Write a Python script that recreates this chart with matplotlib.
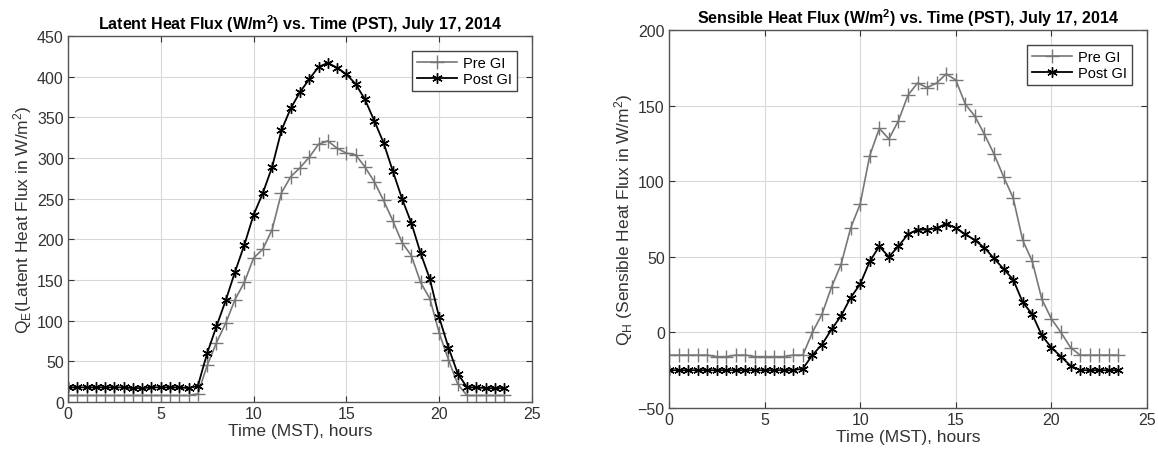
import numpy as np
import matplotlib.pyplot as plt

plt.rcParams['font.family'] = ['Liberation Sans', 'DejaVu Sans']
plt.rcParams['mathtext.fontset'] = 'custom'
plt.rcParams['mathtext.rm'] = 'Liberation Sans'
plt.rcParams['mathtext.it'] = 'Liberation Sans'
plt.rcParams['mathtext.bf'] = 'Liberation Sans:bold'

# 时间 (每半小时)
hours = np.arange(0, 24, 0.5)

# 潜热通量
latent_pre = [8, 8, 8, 8, 8, 8, 8, 8, 8, 8, 8, 8, 8, 8, 10,
              45, 73, 97, 126, 147, 177, 188, 212, 257, 277, 288, 301, 317, 321,
              312, 306, 304, 289, 271, 248, 223, 196, 180, 147, 127, 85, 52, 22,
              8, 8, 8, 8, 8]
latent_post = [18, 18, 18, 18, 18, 18, 18, 17, 17, 18, 18, 18, 18, 17, 20,
               60, 93, 125, 160, 193, 230, 257, 289, 334, 361, 381, 397, 412, 417,
               411, 403, 391, 372, 346, 319, 284, 250, 220, 183, 151, 104, 67, 35,
               18, 18, 17, 17, 17]

# 显热通量
sensible_pre = [-15, -15, -15, -15, -15, -16, -16, -15, -15, -16, -16, -16, -16, -15, -15,
                0, 12, 30, 45, 69, 85, 117, 135, 128, 140, 157, 165, 162, 165,
                171, 167, 151, 143, 131, 118, 103, 89, 61, 47, 22, 9, 0, -10,
                -15, -15, -15, -15, -15]
sensible_post = [-25, -25, -25, -25, -25, -25, -25, -25, -25, -25, -25, -25, -25, -25, -24,
                 -15, -8, 2, 11, 23, 32, 47, 57, 50, 57, 65, 68, 68, 69,
                 72, 69, 65, 61, 56, 49, 42, 35, 20, 12, -2, -10, -16, -22,
                 -25, -25, -25, -25, -25]

fig = plt.figure(figsize=(11.58, 4.52), dpi=100)
ax1 = fig.add_axes([0.0587, 0.1084, 0.4007, 0.8097])
ax2 = fig.add_axes([0.5777, 0.0951, 0.4128, 0.836])

def style_axes(ax):
    ax.set_xlim(0, 25)
    ax.set_xticks([0, 5, 10, 15, 20, 25])
    ax.grid(True, color='#d8d8d8', linewidth=0.8)
    ax.tick_params(direction='in', top=True, right=True, labelsize=11.5,
                   colors='#333333', length=4, pad=3)
    for s in ax.spines.values():
        s.set_color('#555555')
        s.set_linewidth(1.0)
    ax.set_xlabel('Time (MST), hours', fontsize=12.5, color='#333333', labelpad=1)

def draw(ax, pre, post):
    ax.plot(hours, pre, color='#777777', marker='+', markersize=10, linewidth=1.2,
            markeredgewidth=1.0, label='Pre GI')
    ax.plot(hours, post, color='black', marker=(6, 2, 0), markersize=7.5, linewidth=1.3,
            markeredgewidth=1.0, label='Post GI')
    ax.legend(loc='upper right', fontsize=10.5, fancybox=False, edgecolor='#444444',
              handlelength=2.8, borderpad=0.35, labelspacing=0.15, framealpha=1,
              borderaxespad=1.0, handletextpad=0.4)

draw(ax1, latent_pre, latent_post)
style_axes(ax1)
ax1.set_ylim(0, 450)
ax1.set_yticks(range(0, 451, 50))
ax1.set_ylabel(r'Q$_\mathrm{E}$(Latent Heat Flux in W/m$^\mathrm{2}$)', fontsize=12.5,
               color='#333333', labelpad=2)
ax1.set_title(r'Latent Heat Flux (W/m$^\mathbf{2}$) vs. Time (PST), July 17, 2014',
              fontsize=11.5, fontweight='bold', pad=5)

draw(ax2, sensible_pre, sensible_post)
style_axes(ax2)
ax2.set_ylim(-50, 200)
ax2.set_yticks(range(-50, 201, 50))
ax2.set_ylabel(r'Q$_\mathrm{H}$ (Sensible Heat Flux in W/m$^\mathrm{2}$)', fontsize=12.5,
               color='#333333', labelpad=2)
ax2.set_title(r'Sensible Heat Flux (W/m$^\mathbf{2}$) vs. Time (PST), July 17, 2014',
              fontsize=11.5, fontweight='bold', pad=5)

fig.savefig('out.png', dpi=100)
